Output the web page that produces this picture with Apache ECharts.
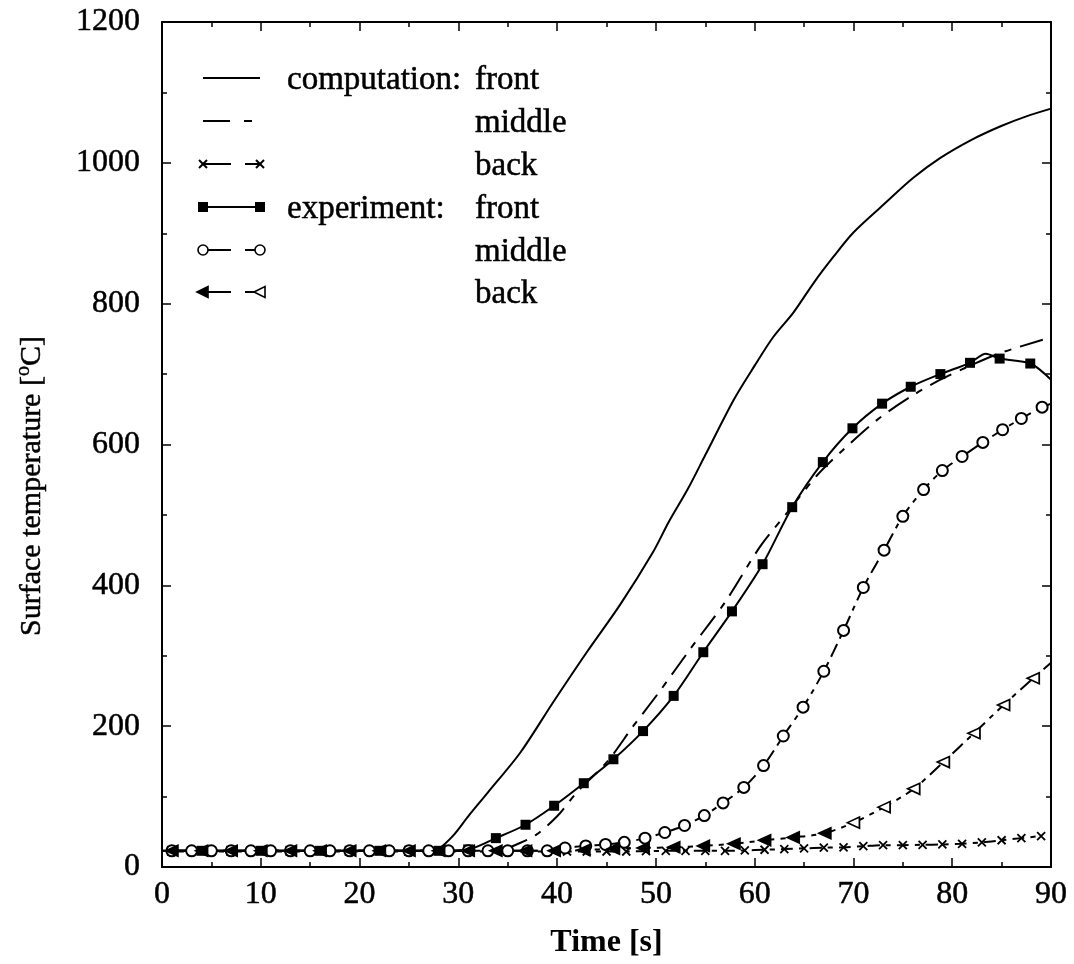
<!DOCTYPE html>
<html>
<head>
<meta charset="utf-8">
<title>Surface temperature</title>
<script src="https://cdn.jsdelivr.net/npm/echarts@6/dist/echarts.min.js"></script>
<style>
  html, body { margin: 0; padding: 0; background: #fff; }
  #ichart { width: 1074px; height: 964px; }
</style>
</head>
<body>
<div id="ichart"></div>
<script>
// tick labels
const xTicks = [0, 10, 20, 30, 40, 50, 60, 70, 80, 90]
const yTicks = [0, 200, 400, 600, 800, 1000, 1200]

// computation (lines)  [time s, temperature C]
const compFront = [[0, 23], [27, 23], [28, 26], [29.5, 45], [31, 72], [33, 106], [36.3, 163], [39.6, 234],
  [43, 305], [46.4, 373], [49.7, 447], [51.3, 490], [53.2, 536], [55, 585], [57.9, 664], [60, 712],
  [61.9, 753], [63.9, 787], [66, 830], [68, 867], [70, 901], [73, 940], [76, 978], [78.8, 1007],
  [82, 1033], [84.9, 1052], [87.5, 1066], [90, 1077]]
const compMiddle = [[0, 23], [33, 23], [34.5, 25], [35.9, 32], [37.9, 46], [40, 72], [42, 106], [45.1, 150],
  [47.7, 200], [50.2, 246], [53.5, 310], [57, 376], [60.6, 456], [63.4, 505], [66.3, 556], [69, 593],
  [72.4, 635], [75.8, 668], [78.8, 692], [81.5, 710], [84.9, 730], [89, 748], [90, 752]]
const compBack = [[1, 22], [3, 22], [5, 22], [7, 22], [9, 22], [11, 22], [13, 22], [15, 22], [17, 22],
  [19, 22], [21, 22], [23, 22], [25, 22], [27, 22], [29, 22], [31, 22], [33, 22], [35, 22], [37, 22],
  [39, 22], [41, 22], [43, 22], [45, 22], [47, 22], [49, 22.5], [51, 23], [53, 23], [55, 23], [57, 23],
  [59, 23.5], [61, 24.5], [63, 25.5], [65, 26.5], [67, 27.5], [69, 28], [71, 29.5], [73, 31], [75, 31],
  [77, 31.5], [79, 32], [81, 33], [83, 35], [85, 38], [87, 41], [89, 44]]

// experiment (marked points) + unmarked line ends
const expFront = [[1, 23], [4, 23], [7, 23], [10, 23], [13, 23], [16, 23], [19, 23], [22, 23], [25, 23],
  [28, 23], [31, 25], [33.8, 41], [36.8, 60], [39.7, 87], [42.7, 119], [45.7, 153], [48.7, 193],
  [51.8, 243], [54.8, 305], [57.7, 363], [60.8, 430], [63.8, 511], [66.9, 575], [69.9, 623], [72.9, 658],
  [75.8, 682], [78.8, 700], [81.8, 716], [84.8, 722], [87.9, 715]]
const expFrontTail = [[83.4, 729], [90, 692]]
const expMiddle = [[1, 23], [3, 23], [5, 23], [7, 23], [9, 23], [11, 23], [13, 23], [15, 23], [17, 23],
  [19, 23], [21, 23], [23, 23], [25, 23], [27, 23], [29, 23], [31, 23], [33, 23], [35, 23], [37, 23],
  [39, 23], [40.8, 27], [42.9, 30], [44.9, 32], [46.8, 35], [48.9, 41], [50.9, 49], [52.9, 59],
  [54.9, 73], [56.8, 91], [58.9, 113], [60.9, 144], [62.9, 186], [64.9, 227], [67, 278], [69, 336],
  [71, 397], [73.1, 450], [75, 498], [77.1, 536], [79, 563], [81, 583], [83.1, 603], [85.1, 621],
  [87, 637], [89.1, 653]]
const expMiddleTail = [[90, 658]]
const expBack = [[1, 23], [4, 23], [7, 23], [10, 23], [13, 23], [16, 23], [19, 23], [22, 23], [25, 23],
  [28, 23], [31, 23], [33.8, 23], [36.8, 23], [39.7, 23], [42.7, 24], [45.7, 26], [48.7, 27], [51.8, 28],
  [54.8, 30], [57.9, 33], [61, 38], [63.9, 42], [67.1, 48], [70, 63], [73.1, 85], [76.1, 111],
  [79.1, 149], [82.2, 190], [85.2, 230], [88.2, 268]]
const expBackTail = [[90, 290]]

const FONT = '"Liberation Serif", "Times New Roman", serif'
const CROSS = 'path://M0,0L10,10M0,10L10,0'
// a thin outline on text, to get the heavier look of the printed figure
const INK = { textBorderColor: '#000', textBorderWidth: 0.5 }

// marked points + unmarked tail, sorted by time
function withTail (marks, tail, itemFn) {
  let items = marks.map(p => Object.assign({ value: p }, itemFn ? itemFn(p) : {}))
  tail.forEach(p => items.push({ value: p, symbol: 'none' }))
  items.sort((a, b) => a.value[0] - b.value[0])
  return items
}

function axisX (pos, show) {
  return {
    type: 'value', position: pos, min: 0, max: 90, interval: 10,
    axisLine: { onZero: false, lineStyle: { color: '#000', width: 2 } },
    axisTick: { inside: true, length: 9, lineStyle: { color: '#000', width: 1.5 } },
    minorTick: { show: true, splitNumber: 2, length: 5, lineStyle: { color: '#000', width: 1.5 } },
    splitLine: { show: false },
    axisLabel: Object.assign({
      show: show, margin: 12, color: '#000', fontFamily: FONT, fontSize: 32,
      formatter: v => xTicks.indexOf(v) >= 0 ? String(v) : ''
    }, INK),
    name: show ? 'Time [s]' : '',
    nameLocation: 'middle', nameGap: 60,
    nameTextStyle: { color: '#000', fontFamily: FONT, fontSize: 32, fontWeight: 'bold' }
  }
}

function axisY (pos, show) {
  return {
    type: 'value', position: pos, min: 0, max: 1200, interval: 200,
    axisLine: { onZero: false, lineStyle: { color: '#000', width: 2 } },
    axisTick: { inside: true, length: 9, lineStyle: { color: '#000', width: 1.5 } },
    minorTick: { show: true, splitNumber: 2, length: 5, lineStyle: { color: '#000', width: 1.5 } },
    splitLine: { show: false },
    axisLabel: Object.assign({
      show: show, margin: 22, color: '#000', fontFamily: FONT, fontSize: 32,
      formatter: v => yTicks.indexOf(v) >= 0 ? String(v) : ''
    }, INK)
  }
}

// legend drawn by hand (dash patterns with markers at both ends)
const LX1 = 203
const LX2 = 260
const rowY = [78, 121, 164, 207, 250, 292]
const lineSt = { stroke: '#000', lineWidth: 2 }

function seg (x1, x2, y) {
  return { type: 'line', shape: { x1: x1, y1: y, x2: x2, y2: y }, style: lineSt }
}
function crossMark (x, y) {
  return [
    { type: 'line', shape: { x1: x - 4, y1: y - 4, x2: x + 4, y2: y + 4 }, style: lineSt },
    { type: 'line', shape: { x1: x - 4, y1: y + 4, x2: x + 4, y2: y - 4 }, style: lineSt }
  ]
}
function squareMark (x, y) {
  return { type: 'rect', shape: { x: x - 5, y: y - 5, width: 10, height: 10 }, style: { fill: '#000' } }
}
function circleMark (x, y) {
  return { type: 'circle', shape: { cx: x, cy: y, r: 5 }, style: { fill: '#fff', stroke: '#000', lineWidth: 1.6 }, z: 101 }
}
function triMark (x, y, filled) {
  return {
    type: 'polygon', shape: { points: [[x - 6, y], [x + 5, y - 5.5], [x + 5, y + 5.5]] },
    style: { fill: filled ? '#000' : '#fff', stroke: '#000', lineWidth: 1.6 }, z: 101
  }
}
function label (txt, x, y) {
  return {
    type: 'text', x: x, y: y,
    style: { text: txt, fontFamily: FONT, fontSize: 33, fill: '#000', verticalAlign: 'middle', stroke: '#000', lineWidth: 0.5 }
  }
}

let legendItems = []
// computation front: solid
legendItems.push(seg(LX1, LX2, rowY[0]))
// computation middle: long - short
legendItems.push(seg(LX1, LX1 + 27, rowY[1]), seg(LX1 + 41, LX1 + 49, rowY[1]))
// computation back
legendItems.push(seg(LX1, LX1 + 28, rowY[2]), seg(LX1 + 42, LX2, rowY[2]))
legendItems = legendItems.concat(crossMark(LX1, rowY[2]), crossMark(LX2, rowY[2]))
// experiment front
legendItems.push(seg(LX1, LX2, rowY[3]), squareMark(LX1, rowY[3]), squareMark(LX2, rowY[3]))
// experiment middle
legendItems.push(seg(LX1, LX1 + 28, rowY[4]), seg(LX1 + 42, LX2, rowY[4]), circleMark(LX1, rowY[4]), circleMark(LX2, rowY[4]))
// experiment back
legendItems.push(seg(LX1, LX1 + 28, rowY[5]), seg(LX1 + 42, LX2, rowY[5]), triMark(LX1, rowY[5], true), triMark(LX2, rowY[5], false))

legendItems.push(
  label('computation:', 287, rowY[0] + 2), label('front', 475, rowY[0] + 2),
  label('middle', 475, rowY[1] + 2), label('back', 475, rowY[2] + 2),
  label('experiment:', 287, rowY[3] + 2), label('front', 475, rowY[3] + 2),
  label('middle', 475, rowY[4] + 2), label('back', 475, rowY[5] + 2)
)

// y axis title with superscript o
legendItems.push({
  type: 'text', x: 32, y: 486, rotation: Math.PI / 2,
  style: {
    text: '{a|Surface temperature [}{s|o}{a|C]}',
    align: 'center', verticalAlign: 'middle', fill: '#000',
    rich: {
      a: { fontFamily: FONT, fontSize: 30, fill: '#000', lineHeight: 36, stroke: '#000', lineWidth: 0.5 },
      s: { fontFamily: FONT, fontSize: 20, fill: '#000', verticalAlign: 'top', lineHeight: 36, stroke: '#000', lineWidth: 0.4 }
    }
  }
})

const lineW = 2

const option = {
  backgroundColor: '#fff',
  animation: false,
  grid: { left: 162, right: 23, top: 22, bottom: 96 },
  xAxis: [axisX('bottom', true), axisX('top', false)],
  yAxis: [axisY('left', true), axisY('right', false)],
  graphic: legendItems,
  series: [
    {
      name: 'computation front', type: 'line', smooth: 0.3, symbol: 'none',
      lineStyle: { color: '#000', width: lineW },
      data: compFront
    },
    {
      name: 'computation middle', type: 'line', smooth: 0.3, symbol: 'none',
      lineStyle: { color: '#000', width: lineW, type: [24, 9, 7, 9] },
      data: compMiddle
    },
    {
      name: 'computation back', type: 'line', smooth: 0.3,
      symbol: CROSS, symbolSize: 8,
      itemStyle: { color: 'none', borderColor: '#000', borderWidth: 1.8 },
      lineStyle: { color: '#000', width: lineW, type: [12, 6, 5, 6] },
      data: compBack
    },
    {
      name: 'experiment front', type: 'line', smooth: 0.3,
      symbol: 'rect', symbolSize: 10,
      itemStyle: { color: '#000' },
      lineStyle: { color: '#000', width: lineW },
      data: withTail(expFront, expFrontTail)
    },
    {
      name: 'experiment middle', type: 'line', smooth: 0.3,
      symbol: 'emptyCircle', symbolSize: 11,
      itemStyle: { color: '#000', borderWidth: 1.7 },
      lineStyle: { color: '#000', width: lineW, type: [14, 6, 5, 6] },
      data: withTail(expMiddle, expMiddleTail)
    },
    {
      name: 'experiment back', type: 'line', smooth: 0.3,
      symbol: 'triangle', symbolSize: [11, 12], symbolRotate: 90,
      itemStyle: { color: '#000', borderColor: '#000', borderWidth: 1.7 },
      lineStyle: { color: '#000', width: lineW, type: [14, 6, 5, 6] },
      data: withTail(expBack, expBackTail, p => p[0] < 69 ? {} : { itemStyle: { color: '#fff' } })
    }
  ]
}

const myChart = echarts.init(document.getElementById('ichart'))
myChart.setOption(option)
</script>
</body>
</html>
